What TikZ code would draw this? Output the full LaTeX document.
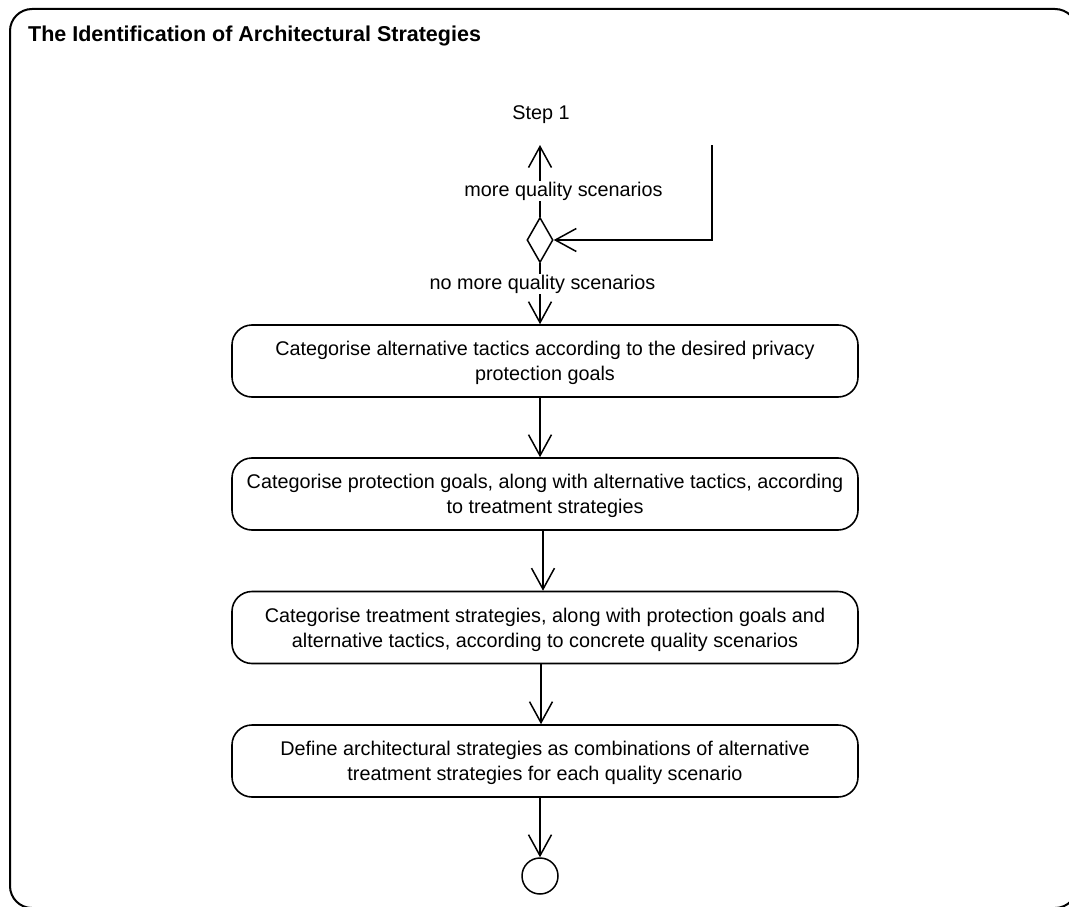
\documentclass[tikz,border=0pt]{standalone}
\usepackage{fontspec}
\setmainfont{Liberation Sans}
\usetikzlibrary{arrows.meta,shapes.geometric}
\newcommand{\diagfont}{\fontsize{19.8}{25}\selectfont}
\newcommand{\headfont}{\fontsize{21.5}{26}\selectfont\bfseries}
\begin{document}
\begin{tikzpicture}[x=1pt,y=-1pt,
  frame/.style={draw,line width=2pt,rounded corners=22pt},
  action/.style={draw,line width=1.6pt,rounded corners=20pt,
    minimum width=626pt,minimum height=72pt,align=center,inner sep=0pt,
    text depth=0pt,font=\diagfont},
  flow/.style={line width=1.5pt,-{Straight Barb[length=21pt,width=23pt]}},
  guard/.style={fill=white,inner sep=1pt,anchor=base,font=\diagfont},
  plain/.style={inner sep=0pt,anchor=base,font=\diagfont}]
\useasboundingbox (0,0) rectangle (1069,907);

% activity frame, running off the right and bottom edges
\draw[frame] (10,9) rectangle (1077,908);
\node[anchor=base west,inner sep=0pt,font=\headfont] (title) at (28,41.5)
  {The Identification of Architectural Strategies};

% decision and loop back
\node[plain] (step) at (541,119) {Step 1};
\coordinate (uptip) at (540,145);
\coordinate (loop) at (712,145);
\node[diamond,draw,line width=1.5pt,minimum width=26pt,minimum height=45pt,
  inner sep=0pt] (dec) at (540,240) {};

% actions
\node[action] (b1) at (545,361)
  {Categorise alternative tactics according to the desired privacy\\protection goals};
\node[action] (b2) at (545,494)
  {Categorise protection goals, along with alternative tactics, according\\to treatment strategies};
\node[action] (b3) at (545,627.5)
  {Categorise treatment strategies, along with protection goals and\\alternative tactics, according to concrete quality scenarios};
\node[action] (b4) at (545,761)
  {Define architectural strategies as combinations of alternative\\treatment strategies for each quality scenario};
\node[circle,draw,line width=1.5pt,minimum size=36pt,inner sep=0pt] (fin) at (540,876) {};

% connectors
\draw[flow] (dec.north) -- (uptip);
\draw[flow] (loop) |- (dec.east);
\draw[flow] (dec.south) -- (b1.north -| dec.south);
\draw[flow] ([xshift=-5pt]b1.south) -- ([xshift=-5pt]b2.north);
\draw[flow] ([xshift=-2pt]b2.south) -- ([xshift=-2pt]b3.north);
\draw[flow] ([xshift=-4pt]b3.south) -- ([xshift=-4pt]b4.north);
\draw[flow] (b4.south -| fin.north) -- (fin.north);

% guard labels
\node[guard] (more) at (563.5,196) {more quality scenarios};
\node[guard] (nomore) at (542.5,289) {no more quality scenarios};
\end{tikzpicture}
\end{document}
